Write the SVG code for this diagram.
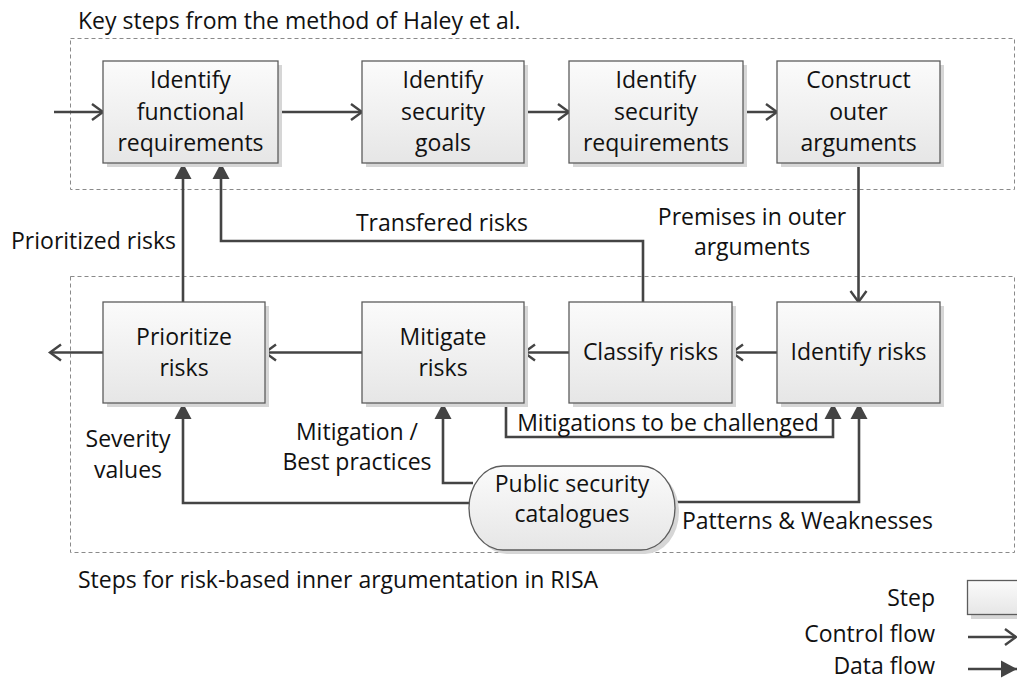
<svg xmlns="http://www.w3.org/2000/svg" width="1017" height="681" viewBox="0 0 1017 681">
  <style>
    .t { font-family: "Open Sans", "Liberation Sans", sans-serif; font-size: 23px; fill: #111; }
    .m { text-anchor: middle; }
    .e { text-anchor: end; }
    .frame { fill: none; stroke: #8a8a8a; stroke-width: 1; stroke-dasharray: 4 3; }
    .box { fill: url(#boxFill); stroke: #5c5c5c; stroke-width: 1.3; }
    .shadow { fill: #d6d6d6; }
    .cf { fill: none; stroke: #444; stroke-width: 2.6; marker-end: url(#open); }
    .df { fill: none; stroke: #444; stroke-width: 2.6; marker-end: url(#solid); }
  </style>
  <defs>
    <linearGradient id="boxFill" x1="0" y1="0" x2="0" y2="1">
      <stop offset="0" stop-color="#fbfbfb"/>
      <stop offset="1" stop-color="#e6e6e6"/>
    </linearGradient>
    <marker id="open" markerUnits="userSpaceOnUse" markerWidth="16" markerHeight="20" refX="13" refY="10" orient="auto">
      <path d="M2,2 L13,10 L2,18" fill="none" stroke="#444" stroke-width="2.4"/>
    </marker>
    <marker id="solid" markerUnits="userSpaceOnUse" markerWidth="18" markerHeight="18" refX="16" refY="9" orient="auto">
      <path d="M0,0.5 L16,9 L0,17.5 Z" fill="#444"/>
    </marker>
  </defs>

  <rect width="1017" height="681" fill="#fff"/>

  <!-- group frames -->
  <g id="frames">
    <rect class="frame" x="70.5" y="38.5" width="944" height="151"/>
    <rect class="frame" x="70.5" y="276.5" width="944" height="276"/>
    <text class="t" x="78" y="29">Key steps from the method of Haley et al.</text>
    <text class="t" x="78" y="588">Steps for risk-based inner argumentation in RISA</text>
  </g>

  <!-- connectors -->
  <g id="connectors">
    <!-- control flow -->
    <path class="cf" d="M54,112 H103"/>
    <path class="cf" d="M278,112 H362"/>
    <path class="cf" d="M524,112 H569"/>
    <path class="cf" d="M743,112 H777"/>
    <path class="cf" d="M858.5,163 V302"/>
    <path class="cf" d="M777,352.5 H732"/>
    <path class="cf" d="M569,352.5 H524"/>
    <path class="cf" d="M362,352.5 H265"/>
    <path class="cf" d="M103,352.5 H50"/>
    <!-- data flow -->
    <path class="df" d="M183,302 V163"/>
    <path class="df" d="M643,302 V241 H221 V163"/>
    <path class="df" d="M506,403 V437 H833 V403"/>
    <path class="df" d="M473,483 H443 V403"/>
    <path class="df" d="M472,503 H183 V403"/>
    <path class="df" d="M675,502 H859 V403"/>
  </g>

  <!-- connector labels -->
  <g id="labels">
    <text class="t" x="11" y="249">Prioritized risks</text>
    <text class="t m" x="442" y="231">Transfered risks</text>
    <text class="t m" x="752" y="225">Premises in outer</text>
    <text class="t m" x="752" y="255">arguments</text>
    <text class="t m" x="668" y="431">Mitigations to be challenged</text>
    <text class="t m" x="128" y="447">Severity</text>
    <text class="t m" x="128" y="478">values</text>
    <text class="t m" x="357" y="440">Mitigation /</text>
    <text class="t m" x="357" y="470">Best practices</text>
    <text class="t" x="682" y="529">Patterns &amp; Weaknesses</text>
  </g>

  <!-- top row steps -->
  <g id="identify-functional-requirements">
    <rect class="shadow" x="107" y="65" width="175" height="102"/>
    <rect class="box" x="103" y="61" width="175" height="102"/>
    <text class="t m" x="190.5" y="88">Identify</text>
    <text class="t m" x="190.5" y="119.5">functional</text>
    <text class="t m" x="190.5" y="151">requirements</text>
  </g>
  <g id="identify-security-goals">
    <rect class="shadow" x="366" y="65" width="162" height="102"/>
    <rect class="box" x="362" y="61" width="162" height="102"/>
    <text class="t m" x="443" y="88">Identify</text>
    <text class="t m" x="443" y="119.5">security</text>
    <text class="t m" x="443" y="151">goals</text>
  </g>
  <g id="identify-security-requirements">
    <rect class="shadow" x="573" y="65" width="174" height="102"/>
    <rect class="box" x="569" y="61" width="174" height="102"/>
    <text class="t m" x="656" y="88">Identify</text>
    <text class="t m" x="656" y="119.5">security</text>
    <text class="t m" x="656" y="151">requirements</text>
  </g>
  <g id="construct-outer-arguments">
    <rect class="shadow" x="781" y="65" width="163" height="102"/>
    <rect class="box" x="777" y="61" width="163" height="102"/>
    <text class="t m" x="858.5" y="88">Construct</text>
    <text class="t m" x="858.5" y="119.5">outer</text>
    <text class="t m" x="858.5" y="151">arguments</text>
  </g>

  <!-- bottom row steps -->
  <g id="prioritize-risks">
    <rect class="shadow" x="107" y="306" width="162" height="101"/>
    <rect class="box" x="103" y="302" width="162" height="101"/>
    <text class="t m" x="184" y="345">Prioritize</text>
    <text class="t m" x="184" y="376">risks</text>
  </g>
  <g id="mitigate-risks">
    <rect class="shadow" x="366" y="306" width="162" height="101"/>
    <rect class="box" x="362" y="302" width="162" height="101"/>
    <text class="t m" x="443" y="345">Mitigate</text>
    <text class="t m" x="443" y="376">risks</text>
  </g>
  <g id="classify-risks">
    <rect class="shadow" x="573" y="306" width="163" height="101"/>
    <rect class="box" x="569" y="302" width="163" height="101"/>
    <text class="t m" x="650.5" y="360">Classify risks</text>
  </g>
  <g id="identify-risks">
    <rect class="shadow" x="781" y="306" width="163" height="101"/>
    <rect class="box" x="777" y="302" width="163" height="101"/>
    <text class="t m" x="858.5" y="360">Identify risks</text>
  </g>

  <!-- data source -->
  <g id="public-security-catalogues">
    <rect class="shadow" x="473" y="470" width="206" height="84" rx="34" ry="42"/>
    <rect class="box" x="469" y="466" width="206" height="84" rx="34" ry="42"/>
    <text class="t m" x="572" y="492">Public security</text>
    <text class="t m" x="572" y="522">catalogues</text>
  </g>

  <!-- legend -->
  <g id="legend">
    <text class="t e" x="935" y="606">Step</text>
    <text class="t e" x="935" y="642">Control flow</text>
    <text class="t e" x="935" y="674">Data flow</text>
    <rect class="shadow" x="971" y="584" width="60" height="35"/>
    <rect class="box" x="967.5" y="580.5" width="60" height="34"/>
    <path class="cf" d="M968,637 H1016"/>
    <path class="df" d="M968,669 H1017"/>
  </g>
</svg>
